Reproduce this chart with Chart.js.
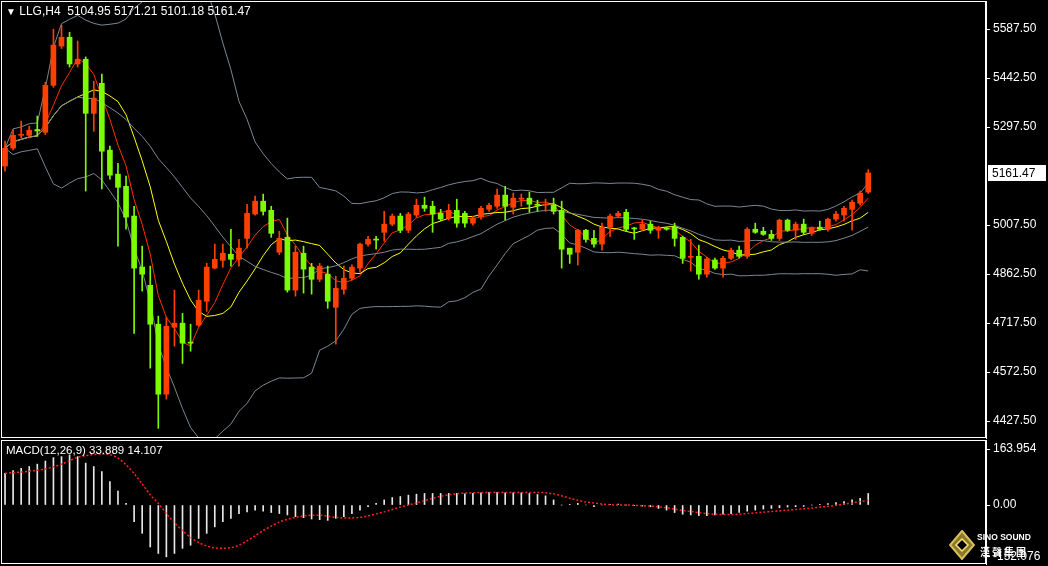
<!DOCTYPE html>
<html><head><meta charset="utf-8">
<script src="https://cdn.jsdelivr.net/npm/chart.js@4"></script>
<style>
html,body{margin:0;padding:0;background:#000;width:1048px;height:566px;overflow:hidden;font-family:"Liberation Sans",Arial,sans-serif}
#c1{position:absolute;left:0;top:0}
#c2{position:absolute;left:0;top:438px}
.t{position:absolute;color:#fff;font-size:12px;white-space:pre}
</style></head><body>
<canvas id="c1" width="1048" height="439"></canvas>
<canvas id="c2" width="1048" height="128"></canvas>
<div class="t" style="left:6px;top:4px"><span style="font-size:10px">▼</span> LLG,H4  5104.95 5171.21 5101.18 5161.47</div>
<div class="t" style="left:6px;top:444px;font-size:11.5px">MACD(12,26,9) 33.889 14.107</div>
<div style="position:absolute;left:949px;top:530px;width:26px;height:30px">
<svg width="26" height="30"><polygon points="13,1 25,15 13,29 1,15" fill="#8a7a2a" stroke="#d8c060" stroke-width="2"/><polygon points="13,9 19,15 13,21 7,15" fill="#000" stroke="#ffe070" stroke-width="1.5"/></svg></div>
<div class="t" style="left:977px;top:532px;font-size:8.5px;font-weight:bold">SINO SOUND</div>
<div class="t" style="left:980px;top:544px;font-size:10px;font-weight:bold;letter-spacing:2px;font-family:'Noto Sans CJK TC'">漢聲集團</div>
<script>
const opens=[5182,5235,5273,5273,5290,5282,5421,5537,5563,5484,5498,5338,5427,5229,5158,5122,5034,4883,4829,4714,4507,4705,4717,4660,4711,4782,4880,4903,4921,4906,4968,5040,5078,5051,4927,4971,4815,4924,4883,4847,4862,4764,4817,4850,4880,4951,4966,4986,5010,5034,4992,5037,5066,5063,5042,5028,5051,5042,5013,5031,5054,5063,5096,5060,5084,5087,5069,5066,5066,5051,4939,4927,4992,4968,4951,5001,5034,5045,4998,4995,5010,4992,4996,5001,4971,4912,4915,4862,4904,4880,4909,4933,4915,4995,4989,4980,4968,5022,4992,5010,4983,5001,4995,5025,5037,5054,5072,5104.95];
const highs=[5256,5290,5315,5300,5330,5430,5587,5599,5578,5552,5505,5433,5454,5241,5190,5152,5063,4945,4886,4738,4735,4815,4746,4714,4815,4894,4951,4951,4995,4965,5069,5093,5099,5063,4989,5028,4945,4945,4894,4894,4886,4856,4886,4890,4954,4974,4974,5048,5040,5042,5045,5084,5090,5078,5054,5069,5084,5048,5034,5063,5072,5114,5122,5102,5099,5105,5081,5084,5087,5078,4935,4995,4995,4992,5013,5040,5048,5054,5001,5022,5019,5004,5001,5013,4975,4965,4948,4912,4910,4915,4939,4945,5000,5013,5001,4992,5025,5025,5016,5025,5001,5019,5028,5048,5063,5081,5108,5171.21];
const lows=[5167,5230,5265,5265,5270,5275,5415,5530,5475,5475,5108,5285,5114,5143,4945,4995,4687,4812,4584,4406,4492,4649,4598,4634,4708,4752,4878,4883,4886,4886,4939,5037,5037,4971,4920,4809,4797,4806,4803,4840,4761,4655,4803,4845,4868,4945,4936,4960,5005,4985,4985,5030,5048,4986,5020,5022,5001,5001,5007,5025,5048,5057,5022,5040,5063,5045,5048,5048,5040,4880,4894,4889,4957,4942,4933,4974,5030,4989,4965,4992,4983,4968,4992,4945,4894,4871,4847,4853,4876,4853,4905,4910,4909,4983,4977,4962,4962,4989,4965,4980,4977,4992,4989,5019,5019,4992,5066,5101.18];
const closes=[5235,5273,5275,5288,5286,5421,5540,5563,5484,5498,5338,5383,5226,5155,5119,5031,4880,4862,4714,4507,4708,4717,4658,4658,4785,4883,4906,4924,4906,4939,5042,5078,5048,4983,4968,4815,4927,4877,4847,4886,4782,4820,4850,4883,4951,4965,4963,5010,5034,4992,5040,5066,5057,5040,5025,5051,5013,5013,5028,5057,5066,5096,5063,5087,5087,5069,5066,5067,5048,4936,4921,4992,4965,4951,5001,5034,5042,4995,4996,5010,4992,5001,4995,4968,4909,4915,4862,4907,4880,4909,4933,4915,4995,4986,4980,4968,5022,4992,5010,4986,4998,4995,5025,5040,5057,5075,5102,5161.47];
const macdMain=[93,101,108,113,120,129,139,142,147,142,123,113,98,69,41,5,-49,-83,-123,-142,-152,-142,-127,-118,-98,-83,-64,-49,-39,-25,-20,-15,-18,-22,-25,-29,-34,-37,-41,-43,-45,-39,-34,-25,-15,-5,5,15,22,25,29,32,34,34,34,34,34,33,34,36,37,37,36,36,36,34,31,27,15,0,2,5,0,-5,0,2,3,0,-2,-3,-5,-10,-15,-22,-27,-29,-31,-31,-29,-27,-25,-22,-18,-15,-12,-10,-8,-6,-5,-4,0,2,4,7,10,15,20,33.889];
const macdSignal=[93,95,97,99,102,106,112,120,130,140,145,148,150,148,138,118,92,62,30,5,-25,-52,-75,-95,-110,-120,-126,-127,-125,-118,-105,-90,-75,-62,-50,-42,-36,-32,-30,-30,-33,-36,-38,-38,-36,-32,-26,-20,-13,-6,0,6,13,20,26,30,33,35,36,37,37,37,37,37,37,37,37,36,33,27,20,14,9,6,3,1,0,0,-1,-2,-3,-5,-8,-12,-16,-19,-22,-25,-27,-28,-28,-27,-25,-23,-21,-19,-17,-15,-13,-11,-9,-6,-4,-1,3,6,10,14.107];
const priceTicks=[5587.5,5442.5,5297.5,5007.5,4862.5,4717.5,4572.5,4427.5];
const macdTicks=[163.954,0,-152.076];
const lastPrice=5161.47;

const N=closes.length;
const RED='#ff4000',GREEN='#7cfc00',GRAY='#7b8795';
function sma(p,i){let s=0,n=0;for(let k=Math.max(0,i-p+1);k<=i;k++){s+=closes[k];n++;}return s/n;}
function sd(p,i,m){let s=0,n=0;for(let k=Math.max(0,i-p+1);k<=i;k++){s+=(closes[k]-m)**2;n++;}return Math.sqrt(s/n);}
const mid=[],up=[],lo=[],ma5=[],ma10=[];
for(let i=0;i<N;i++){const m=sma(20,i),d=sd(20,i,m);mid.push({x:i,y:m});up.push({x:i,y:m+2*d});lo.push({x:i,y:m-2*d});ma5.push({x:i,y:sma(5,i)});ma10.push({x:i,y:sma(10,i)});}
const cols=closes.map((c,i)=>c>=opens[i]?RED:GREEN);
const XMIN=-0.5,XMAX=121.6;
const frame={id:'frame',afterDraw(c){const a=c.chartArea,x=c.ctx;x.save();x.strokeStyle='#fff';x.lineWidth=1;x.strokeRect(a.left+0.5,a.top+0.5,a.right-a.left-1,a.bottom-a.top-1);x.restore();}};
const priceBox={id:'pb',afterDraw(c){const y=c.scales.y.getPixelForValue(lastPrice),a=c.chartArea,x=c.ctx;x.save();x.fillStyle='#fff';x.fillRect(a.right+2,y-8,58,16);x.fillStyle='#000';x.font='12px "Liberation Sans"';x.textBaseline='middle';x.fillText(lastPrice.toFixed(2),a.right+6,y+1);x.restore();}};
function yAxis(min,max,ticks,fmt){return{position:'right',min,max,afterFit(s){s.width=62;s.paddingTop=0;s.paddingBottom=0;},afterBuildTicks(s){s.ticks=ticks.map(v=>({value:v}));},
 ticks:{color:'#fff',font:{family:'Liberation Sans',size:12},padding:3,callback:fmt,autoSkip:false},
 grid:{drawOnChartArea:false,color:'#fff',tickLength:4},border:{color:'#fff'}};}
function xAxis(){return {type:'linear',min:XMIN,max:XMAX,offset:false,display:false,bounds:'data'};}
new Chart(document.getElementById('c1'),{
 data:{datasets:[
  {type:'line',data:up,borderColor:GRAY,borderWidth:1,pointRadius:0,tension:0},
  {type:'line',data:mid,borderColor:GRAY,borderWidth:1,pointRadius:0,tension:0},
  {type:'line',data:lo,borderColor:GRAY,borderWidth:1,pointRadius:0,tension:0},
  {type:'line',data:ma10,borderColor:'#ffff00',borderWidth:1,pointRadius:0,tension:0},
  {type:'line',data:ma5,borderColor:'#ff3000',borderWidth:1,pointRadius:0,tension:0},
  {type:'bar',data:closes.map((c,i)=>({x:i,y:[lows[i],highs[i]]})),backgroundColor:cols,barThickness:1,grouped:false,order:-1},
  {type:'bar',data:closes.map((c,i)=>({x:i,y:[opens[i],c]})),backgroundColor:cols,barThickness:5,minBarLength:1,grouped:false,order:-2}
 ]},
 options:{responsive:false,animation:false,events:[],layout:{padding:{left:1,top:1,bottom:1,right:0}},
  plugins:{legend:{display:false},tooltip:{enabled:false}},
  scales:{x:xAxis(),y:yAxis(4377.3,5670.4,priceTicks,v=>v.toFixed(2))}},
 plugins:[frame,priceBox]});
new Chart(document.getElementById('c2'),{
 data:{datasets:[
  {type:'line',data:macdSignal.map((v,i)=>({x:i,y:v})),borderColor:'#ff2020',borderWidth:1.5,borderDash:[2,2],pointRadius:0,tension:0.3},
  {type:'bar',data:macdMain.map((v,i)=>({x:i,y:v})),backgroundColor:'#e8e8e8',barThickness:1,grouped:false}
 ]},
 options:{responsive:false,animation:false,events:[],layout:{padding:{left:1,top:2,bottom:2,right:0}},
  plugins:{legend:{display:false},tooltip:{enabled:false}},
  scales:{x:xAxis(),y:yAxis(-173,190.8,macdTicks,v=>v===0?'0.00':v.toFixed(3))}},
 plugins:[frame]});
</script></body></html>
